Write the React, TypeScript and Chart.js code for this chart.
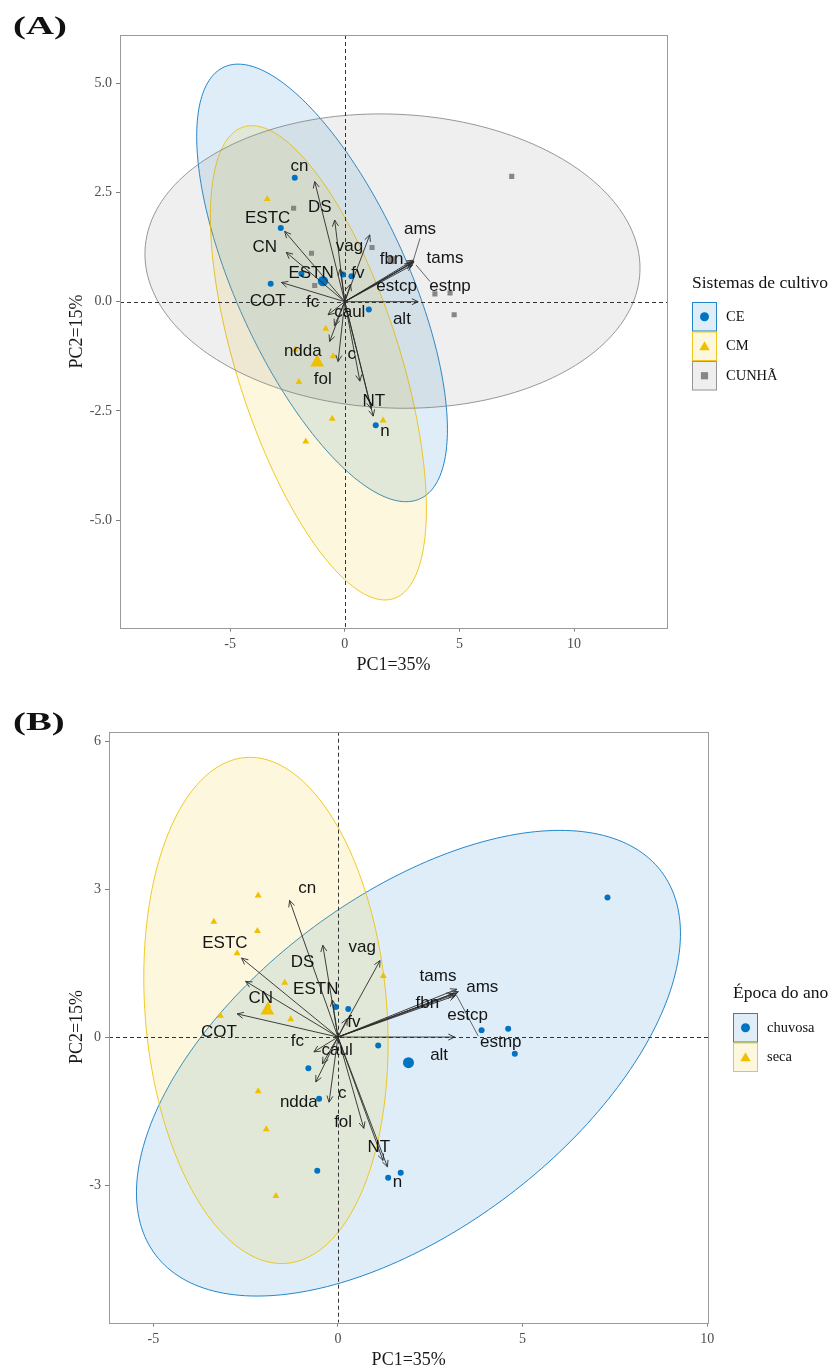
import React, { useEffect, useRef } from 'react';
import { Chart, registerables } from 'chart.js';

Chart.register(...registerables);

// ---------- colours ----------
const BLUE = '#0073C2';
const YELLOW = '#EFC000';
const GREY = '#868686';

// ---------- variable names (loadings) ----------
const VAR_NAMES = ['cn', 'DS', 'ESTC', 'CN', 'COT', 'vag', 'ESTN', 'fv', 'ams', 'tams', 'fbn', 'estcp', 'estnp', 'alt', 'fc', 'caul', 'ndda', 'c', 'fol', 'NT', 'n'];

// ---------- Panel A: Sistemas de cultivo ----------
const A_X_TICKS = [-5, 0, 5, 10];
const A_X_TICK_LABELS = ['-5', '0', '5', '10'];
const A_Y_TICKS = [-5, -2.5, 0, 2.5, 5];
const A_Y_TICK_LABELS = ['-5.0', '-2.5', '0.0', '2.5', '5.0'];

const A_CE_X = [-2.18, -2.79, -1.89, -0.07, 0.29, -3.23, 1.05, 1.35];
const A_CE_Y = [2.84, 1.69, 0.64, 0.62, 0.58, 0.41, -0.18, -2.83];
const A_CM_X = [-3.38, -0.83, -0.51, -2.16, -2.0, -0.55, -1.7, 1.67];
const A_CM_Y = [2.35, -0.62, -1.25, -1.1, -1.84, -2.68, -3.2, -2.72];
const A_CU_X = [-2.23, -1.45, 1.19, -1.31, 3.93, 4.59, 4.77, 7.28];
const A_CU_Y = [2.14, 1.11, 1.24, 0.37, 0.18, 0.2, -0.3, 2.87];
const A_CENTROID_X = [-0.95, -1.2, 2.05];
const A_CENTROID_Y = [0.47, -1.39, 0.95];

// ellipse: centre x, centre y, x-offset of top point, half height, half horizontal chord
const A_ELLIPSE_CE = [-0.99, 0.43, -3.66, 5.01, 4.06];
const A_ELLIPSE_CM = [-1.15, -1.4, -2.9, 5.43, 3.71];
const A_ELLIPSE_CU = [2.08, 0.93, -0.52, 3.37, 10.78];

const A_ARROW_X = [-1.31, -0.44, -2.62, -2.55, -2.76, 1.09, -0.2, 0.25, 2.98, 3.02, 2.9, 2.95, 3.0, 3.2, -0.73, -0.45, -0.66, -0.29, 0.66, 1.15, 1.24];
const A_ARROW_Y = [2.75, 1.87, 1.61, 1.13, 0.44, 1.53, 0.75, 0.4, 0.95, 0.92, 0.88, 0.84, 0.9, 0.0, -0.3, -0.55, -0.91, -1.37, -1.82, -2.45, -2.62];
const A_LABEL_X = [-1.97, -1.09, -3.36, -3.49, -3.36, 0.21, -1.47, 0.57, 3.28, 4.37, 2.04, 2.26, 4.59, 2.49, -1.4, 0.22, -1.83, 0.31, -0.96, 1.27, 1.75];
const A_LABEL_Y = [3.09, 2.17, 1.9, 1.24, 0.02, 1.26, 0.66, 0.66, 1.65, 1.0, 0.96, 0.35, 0.35, -0.41, -0.02, -0.25, -1.14, -1.21, -1.78, -2.29, -2.97];
const A_SEG_X0 = [3.28, 3.11];
const A_SEG_Y0 = [1.45, 0.84];
const A_SEG_X1 = [2.98, 3.72];
const A_SEG_Y1 = [0.93, 0.46];

const A_LEGEND_TITLE = 'Sistemas de cultivo';
const A_LEGEND_LABELS = ['CE', 'CM', 'CUNHÃ'];

// ---------- Panel B: Época do ano ----------
const B_X_TICKS = [-5, 0, 5, 10];
const B_X_TICK_LABELS = ['-5', '0', '5', '10'];
const B_Y_TICKS = [-3, 0, 3, 6];
const B_Y_TICK_LABELS = ['-3', '0', '3', '6'];

const B_CHUVOSA_X = [-0.06, 0.28, 1.09, -0.8, -0.51, 3.89, 4.61, 4.79, 7.3, -0.56, 1.36, 1.7];
const B_CHUVOSA_Y = [0.61, 0.57, -0.17, -0.63, -1.25, 0.14, 0.17, -0.34, 2.83, -2.71, -2.85, -2.75];
const B_SECA_X = [-2.16, -3.36, -2.18, -2.73, -1.44, 1.23, -1.28, -3.18, -1.89, -2.16, -1.94, -1.68];
const B_SECA_Y = [2.87, 2.34, 2.15, 1.7, 1.1, 1.24, 0.36, 0.43, 0.64, -1.1, -1.87, -3.22];
const B_CENTROID_X = [1.91, -1.91];
const B_CENTROID_Y = [-0.52, 0.54];

const B_ELLIPSE_CHUVOSA = [1.91, -0.53, 4.1, 4.72, 6.12];
const B_ELLIPSE_SECA = [-1.95, 0.54, -0.43, 5.13, 3.28];

const B_ARROW_X = [-1.31, -0.41, -2.61, -2.5, -2.73, 1.14, -0.15, 0.25, 3.22, 3.26, 3.12, 3.18, 3.21, 3.16, -0.65, -0.42, -0.6, -0.24, 0.7, 1.22, 1.34];
const B_ARROW_Y = [2.77, 1.86, 1.6, 1.13, 0.47, 1.55, 0.75, 0.37, 0.97, 0.92, 0.88, 0.84, 0.88, 0.0, -0.3, -0.54, -0.91, -1.32, -1.85, -2.5, -2.63];
const B_LABEL_X = [-0.83, -0.96, -3.06, -2.09, -3.22, 0.66, -0.6, 0.43, 3.91, 2.71, 2.42, 3.51, 4.41, 2.74, -1.1, -0.02, -1.06, 0.12, 0.14, 1.11, 1.61];
const B_LABEL_Y = [3.02, 1.52, 1.9, 0.78, 0.1, 1.81, 0.96, 0.29, 1.01, 1.23, 0.68, 0.44, -0.1, -0.37, -0.08, -0.27, -1.32, -1.15, -1.73, -2.23, -2.94];
const B_SEG_X0 = [3.21];
const B_SEG_Y0 = [0.85];
const B_SEG_X1 = [3.8];
const B_SEG_Y1 = [0.02];

const B_LEGEND_TITLE = 'Época do ano';
const B_LEGEND_LABELS = ['chuvosa', 'seca'];

const X_TITLE = 'PC1=35%';
const Y_TITLE = 'PC2=15%';

// ---------- helpers ----------
function rgba(hex: string, a: number) {
  const n = parseInt(hex.slice(1), 16);
  return `rgba(${(n >> 16) & 255},${(n >> 8) & 255},${n & 255},${a})`;
}
const pts = (xs: number[], ys: number[]) => xs.map((x, i) => ({ x, y: ys[i] }));

const SERIF = '"Liberation Serif", "Times New Roman", serif';
const SANS = '"Liberation Sans", Arial, sans-serif';

function drawShape(ctx: CanvasRenderingContext2D, shape: string, x: number, y: number, s: number, color: string) {
  ctx.fillStyle = color;
  ctx.beginPath();
  if (shape === 'circle') {
    ctx.arc(x, y, s, 0, Math.PI * 2);
  } else if (shape === 'triangle') {
    ctx.moveTo(x, y - s);
    ctx.lineTo(x + s * 0.866, y + s * 0.5);
    ctx.lineTo(x - s * 0.866, y + s * 0.5);
    ctx.closePath();
  } else {
    ctx.rect(x - s, y - s, 2 * s, 2 * s);
  }
  ctx.fill();
}

interface PanelCfg {
  height: number;
  padTop: number;
  padRight: number;
  yAxisWidth: number;
  xAxisHeight: number;
  xMin: number; xMax: number; yMin: number; yMax: number;
  xTicks: number[]; xTickLabels: string[]; yTicks: number[]; yTickLabels: string[];
  groups: { xs: number[]; ys: number[]; color: string; shape: string; radius: number }[];
  centroidX: number[]; centroidY: number[]; centroidShapes: string[]; centroidRadius: number[];
  ellipses: { p: number[]; color: string }[];
  arrowX: number[]; arrowY: number[]; labelX: number[]; labelY: number[];
  segX0: number[]; segY0: number[]; segX1: number[]; segY1: number[];
  title: string; titleX: number; titleY: number;
  xTitleX: number; xTitleY: number; yTitleX: number; yTitleY: number;
  legendTitle: string; legendLabels: string[]; legendColors: string[]; legendShapes: string[];
  legendX: number; legendTitleY: number; legendKeyY: number; legendStep: number;
}

function makeConfig(c: PanelCfg): any {
  const plugin = {
    id: 'biplot',
    beforeDatasetsDraw(chart: any) {
      const { ctx, chartArea: a, scales } = chart;
      const sx = scales.x, sy = scales.y;
      ctx.save();
      ctx.beginPath();
      ctx.rect(a.left, a.top, a.right - a.left, a.bottom - a.top);
      ctx.clip();
      c.ellipses.forEach((e) => {
        const [cx, cy, dxTop, hH, hW] = e.p;
        ctx.beginPath();
        for (let k = 0; k <= 240; k++) {
          const t = (k / 240) * Math.PI * 2;
          const X = cx + dxTop * Math.cos(t) + hW * Math.sin(t);
          const Y = cy + hH * Math.cos(t);
          const px = sx.getPixelForValue(X), py = sy.getPixelForValue(Y);
          if (k === 0) ctx.moveTo(px, py); else ctx.lineTo(px, py);
        }
        ctx.closePath();
        ctx.fillStyle = rgba(e.color, 0.13);
        ctx.fill();
        ctx.strokeStyle = rgba(e.color, 0.85);
        ctx.lineWidth = 1;
        ctx.stroke();
      });
      // dashed reference lines at zero
      const x0 = Math.round(sx.getPixelForValue(0)) + 0.5;
      const y0 = Math.round(sy.getPixelForValue(0)) + 0.5;
      ctx.setLineDash([4, 3]);
      ctx.strokeStyle = '#333';
      ctx.lineWidth = 1;
      ctx.beginPath();
      ctx.moveTo(x0, a.top); ctx.lineTo(x0, a.bottom);
      ctx.moveTo(a.left, y0); ctx.lineTo(a.right, y0);
      ctx.stroke();
      ctx.setLineDash([]);
      ctx.restore();
    },
    afterDatasetsDraw(chart: any) {
      const { ctx, scales } = chart;
      const sx = scales.x, sy = scales.y;
      const ox = sx.getPixelForValue(0), oy = sy.getPixelForValue(0);
      ctx.save();
      ctx.strokeStyle = '#2b2b2b';
      ctx.lineWidth = 0.9;
      c.arrowX.forEach((vx, i) => {
        const hx = sx.getPixelForValue(vx), hy = sy.getPixelForValue(c.arrowY[i]);
        const ang = Math.atan2(hy - oy, hx - ox);
        const L = 7, w = Math.PI / 7;
        ctx.beginPath();
        ctx.moveTo(ox, oy);
        ctx.lineTo(hx, hy);
        ctx.moveTo(hx - L * Math.cos(ang - w), hy - L * Math.sin(ang - w));
        ctx.lineTo(hx, hy);
        ctx.lineTo(hx - L * Math.cos(ang + w), hy - L * Math.sin(ang + w));
        ctx.stroke();
      });
      // leader segments
      ctx.strokeStyle = '#444';
      ctx.lineWidth = 0.8;
      c.segX0.forEach((v, i) => {
        ctx.beginPath();
        ctx.moveTo(sx.getPixelForValue(v), sy.getPixelForValue(c.segY0[i]));
        ctx.lineTo(sx.getPixelForValue(c.segX1[i]), sy.getPixelForValue(c.segY1[i]));
        ctx.stroke();
      });
      // variable labels
      ctx.fillStyle = '#151515';
      ctx.font = `17px ${SANS}`;
      ctx.textAlign = 'center';
      ctx.textBaseline = 'middle';
      VAR_NAMES.forEach((name, i) => {
        ctx.fillText(name, sx.getPixelForValue(c.labelX[i]), sy.getPixelForValue(c.labelY[i]));
      });
      ctx.restore();
    },
    afterDraw(chart: any) {
      const { ctx, chartArea: a } = chart;
      ctx.save();
      // panel border
      ctx.strokeStyle = '#9a9a9a';
      ctx.lineWidth = 1;
      ctx.strokeRect(Math.round(a.left) + 0.5, Math.round(a.top) + 0.5, Math.round(a.right - a.left), Math.round(a.bottom - a.top));
      // panel tag
      ctx.fillStyle = '#111';
      ctx.font = `bold 25px ${SERIF}`;
      ctx.textAlign = 'left';
      ctx.textBaseline = 'alphabetic';
      ctx.save();
      ctx.translate(c.titleX, c.titleY);
      ctx.scale(1.55, 1);
      ctx.fillText(c.title, 0, 0);
      ctx.restore();
      // axis titles
      ctx.font = `18px ${SERIF}`;
      ctx.fillStyle = '#1a1a1a';
      ctx.textAlign = 'center';
      ctx.textBaseline = 'middle';
      ctx.fillText(X_TITLE, c.xTitleX, c.xTitleY);
      ctx.save();
      ctx.translate(c.yTitleX, c.yTitleY);
      ctx.rotate(-Math.PI / 2);
      ctx.fillText(Y_TITLE, 0, 0);
      ctx.restore();
      // legend
      ctx.textAlign = 'left';
      ctx.font = `17.5px ${SERIF}`;
      ctx.fillStyle = '#111';
      ctx.fillText(c.legendTitle, c.legendX, c.legendTitleY);
      c.legendLabels.forEach((lab, i) => {
        const ky = c.legendKeyY + i * c.legendStep;
        const col = c.legendColors[i];
        ctx.fillStyle = rgba(col, 0.13);
        ctx.fillRect(c.legendX, ky, 25, c.legendStep);
        ctx.strokeStyle = rgba(col, 0.85);
        ctx.lineWidth = 1;
        ctx.strokeRect(c.legendX + 0.5, ky + 0.5, 24, c.legendStep - 1);
        const shp = c.legendShapes[i];
        drawShape(ctx, shp, c.legendX + 12.5, ky + c.legendStep / 2 + (shp === 'triangle' ? 1 : 0), shp === 'circle' ? 4.5 : shp === 'triangle' ? 6 : 3.6, col);
        ctx.fillStyle = '#111';
        ctx.font = `14.5px ${SERIF}`;
        ctx.fillText(lab, c.legendX + 34, ky + c.legendStep / 2);
      });
      ctx.restore();
    },
  };

  const datasets: any[] = c.groups.map((g) => ({
    data: pts(g.xs, g.ys),
    pointStyle: g.shape,
    pointRadius: g.radius,
    backgroundColor: g.color,
    borderColor: g.color,
    borderWidth: 0,
    showLine: false,
  }));
  c.centroidX.forEach((cx, i) => {
    datasets.push({
      data: [{ x: cx, y: c.centroidY[i] }],
      pointStyle: c.centroidShapes[i],
      pointRadius: c.centroidRadius[i],
      backgroundColor: c.groups[i].color,
      borderColor: c.groups[i].color,
      borderWidth: 0,
      showLine: false,
    });
  });

  const tickFont = { family: SERIF, size: 14 };
  const grid = { display: true, drawOnChartArea: false, drawTicks: true, tickLength: 4, color: '#808080' };

  return {
    type: 'scatter',
    data: { datasets },
    options: {
      responsive: false,
      animation: false,
      devicePixelRatio: 1,
      events: [],
      layout: { padding: { top: c.padTop, right: c.padRight, left: 0, bottom: 0 } },
      plugins: { legend: { display: false }, tooltip: { enabled: false } },
      scales: {
        x: {
          type: 'linear',
          min: c.xMin,
          max: c.xMax,
          afterBuildTicks: (s: any) => { s.ticks = c.xTicks.map((v) => ({ value: v })); },
          afterFit: (s: any) => { s.height = c.xAxisHeight; },
          grid,
          border: { display: false },
          ticks: { font: tickFont, color: '#4d4d4d', padding: 4, autoSkip: false, maxRotation: 0, callback: (_v: any, i: number) => c.xTickLabels[i] },
        },
        y: {
          type: 'linear',
          min: c.yMin,
          max: c.yMax,
          afterBuildTicks: (s: any) => { s.ticks = c.yTicks.map((v) => ({ value: v })); },
          afterFit: (s: any) => { s.width = c.yAxisWidth; },
          grid,
          border: { display: false },
          ticks: { font: tickFont, color: '#4d4d4d', padding: 4, autoSkip: false, callback: (_v: any, i: number) => c.yTickLabels[i] },
        },
      },
    },
    plugins: [plugin],
  };
}

const CFG_A: PanelCfg = {
  height: 690,
  padTop: 35,
  padRight: 165,
  yAxisWidth: 120,
  xAxisHeight: 62.3,
  xMin: -9.8, xMax: 14.05, yMin: -7.465, yMax: 6.107,
  xTicks: A_X_TICKS, xTickLabels: A_X_TICK_LABELS, yTicks: A_Y_TICKS, yTickLabels: A_Y_TICK_LABELS,
  groups: [
    { xs: A_CE_X, ys: A_CE_Y, color: BLUE, shape: 'circle', radius: 3 },
    { xs: A_CM_X, ys: A_CM_Y, color: YELLOW, shape: 'triangle', radius: 4 },
    { xs: A_CU_X, ys: A_CU_Y, color: GREY, shape: 'rect', radius: 3.6 },
  ],
  centroidX: A_CENTROID_X, centroidY: A_CENTROID_Y,
  centroidShapes: ['circle', 'triangle', 'rect'], centroidRadius: [5.2, 8, 5.5],
  ellipses: [
    { p: A_ELLIPSE_CE, color: BLUE },
    { p: A_ELLIPSE_CM, color: YELLOW },
    { p: A_ELLIPSE_CU, color: GREY },
  ],
  arrowX: A_ARROW_X, arrowY: A_ARROW_Y, labelX: A_LABEL_X, labelY: A_LABEL_Y,
  segX0: A_SEG_X0, segY0: A_SEG_Y0, segX1: A_SEG_X1, segY1: A_SEG_Y1,
  title: '(A)', titleX: 13, titleY: 34,
  xTitleX: 393.5, xTitleY: 665, yTitleX: 77, yTitleY: 331.5,
  legendTitle: A_LEGEND_TITLE, legendLabels: A_LEGEND_LABELS,
  legendColors: [BLUE, YELLOW, GREY], legendShapes: ['circle', 'triangle', 'rect'],
  legendX: 692, legendTitleY: 283, legendKeyY: 302, legendStep: 29.5,
};

const CFG_B: PanelCfg = {
  height: 681,
  padTop: 41.7,
  padRight: 123.7,
  yAxisWidth: 109,
  xAxisHeight: 48.3,
  xMin: -6.2, xMax: 10.03, yMin: -5.79, yMax: 6.19,
  xTicks: B_X_TICKS, xTickLabels: B_X_TICK_LABELS, yTicks: B_Y_TICKS, yTickLabels: B_Y_TICK_LABELS,
  groups: [
    { xs: B_CHUVOSA_X, ys: B_CHUVOSA_Y, color: BLUE, shape: 'circle', radius: 3 },
    { xs: B_SECA_X, ys: B_SECA_Y, color: YELLOW, shape: 'triangle', radius: 4 },
  ],
  centroidX: B_CENTROID_X, centroidY: B_CENTROID_Y,
  centroidShapes: ['circle', 'triangle'], centroidRadius: [5.5, 8],
  ellipses: [
    { p: B_ELLIPSE_CHUVOSA, color: BLUE },
    { p: B_ELLIPSE_SECA, color: YELLOW },
  ],
  arrowX: B_ARROW_X, arrowY: B_ARROW_Y, labelX: B_LABEL_X, labelY: B_LABEL_Y,
  segX0: B_SEG_X0, segY0: B_SEG_Y0, segX1: B_SEG_X1, segY1: B_SEG_Y1,
  title: '(B)', titleX: 13, titleY: 40,
  xTitleX: 408.7, xTitleY: 670, yTitleX: 77, yTitleY: 337,
  legendTitle: B_LEGEND_TITLE, legendLabels: B_LEGEND_LABELS,
  legendColors: [BLUE, YELLOW], legendShapes: ['circle', 'triangle'],
  legendX: 733, legendTitleY: 303.3, legendKeyY: 323, legendStep: 29.5,
};

export default function App() {
  const refA = useRef<HTMLCanvasElement>(null);
  const refB = useRef<HTMLCanvasElement>(null);

  useEffect(() => {
    const a = new Chart(refA.current as HTMLCanvasElement, makeConfig(CFG_A));
    const b = new Chart(refB.current as HTMLCanvasElement, makeConfig(CFG_B));
    return () => {
      a.destroy();
      b.destroy();
    };
  }, []);

  return (
    <div style={{ position: 'absolute', left: 0, top: 0, width: 832, height: 1371, background: '#fff' }}>
      <canvas ref={refA} width={832} height={CFG_A.height} style={{ position: 'absolute', left: 0, top: 0, width: 832, height: CFG_A.height }} />
      <canvas ref={refB} width={832} height={CFG_B.height} style={{ position: 'absolute', left: 0, top: CFG_A.height, width: 832, height: CFG_B.height }} />
    </div>
  );
}
